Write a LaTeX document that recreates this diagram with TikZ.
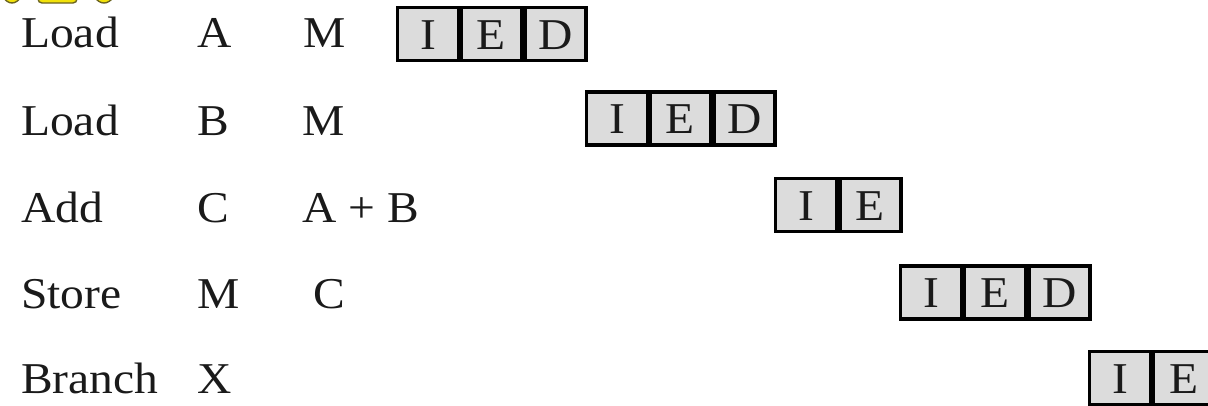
\documentclass[tikz,border=0pt]{standalone}
\usepackage{fontspec}
\setmainfont{Liberation Serif}[FakeStretch=1.08]
\definecolor{txt}{HTML}{1A1A1A}
\definecolor{cellfill}{HTML}{DCDCDC}
\definecolor{yel}{HTML}{F2E20A}
\definecolor{yedge}{HTML}{6B6420}
\begin{document}
\begin{tikzpicture}[x=1pt,y=-1pt,
  lbl/.style={anchor=base west, inner sep=0pt, text=txt, font=\fontsize{44}{44}\selectfont},
  cell/.style={draw=black, line width=3.2pt, fill=cellfill, minimum width=61pt, minimum height=53pt,
    inner sep=0pt, outer sep=0pt, text height=30pt, text depth=0pt, text=txt,
    font=\fontsize{44}{44}\selectfont}]
\useasboundingbox (0,0) rectangle (1208,405);
% cropped yellow heading remains
\begin{scope}
  \clip (0,0) rectangle (130,3.6);
  \draw[fill=yel, draw=yedge, line width=1.4pt] (12,-20) ellipse (13 and 23);
  \draw[fill=yel, draw=yedge, line width=1.4pt, rounded corners=4pt] (38,-30) rectangle (77,3);
  \draw[fill=yel, draw=yedge, line width=1.4pt] (104,-20) ellipse (14 and 23);
\end{scope}
% row 1
\node[lbl] (op1) at (21,47) {Load};
\node[lbl] (a1) at (197,47) {A};
\node[lbl] (b1) at (303,47) {M};
\node[cell] (i1) at (428,34) {I};
\node[cell] (e1) at (491.5,34) {E};
\node[cell] (d1) at (555.5,34) {D};
% row 2
\node[lbl] (op2) at (21,135) {Load};
\node[lbl] (a2) at (197,135) {B};
\node[lbl] (b2) at (302,135) {M};
\node[cell] (i2) at (617,118.5) {I};
\node[cell] (e2) at (680.5,118.5) {E};
\node[cell] (d2) at (744.5,118.5) {D};
% row 3
\node[lbl] (op3) at (21,222) {Add};
\node[lbl] (a3) at (197,222) {C};
\node[lbl] (b3) at (302,222) {A + B};
\node[cell] (i3) at (806,205) {I};
\node[cell] (e3) at (870.5,205) {E};
% row 4
\node[lbl] (op4) at (21,308) {Store};
\node[lbl] (a4) at (197,308) {M};
\node[lbl] (b4) at (313,308) {C};
\node[cell] (i4) at (931,292.5) {I};
\node[cell] (e4) at (995,292.5) {E};
\node[cell] (d4) at (1059.5,292.5) {D};
% row 5
\node[lbl] (op5) at (21,393) {Branch};
\node[lbl] (a5) at (197,393) {X};
\node[cell] (i5) at (1120,378) {I};
\node[cell] (e5) at (1184,378) {E};
\end{tikzpicture}
\end{document}
